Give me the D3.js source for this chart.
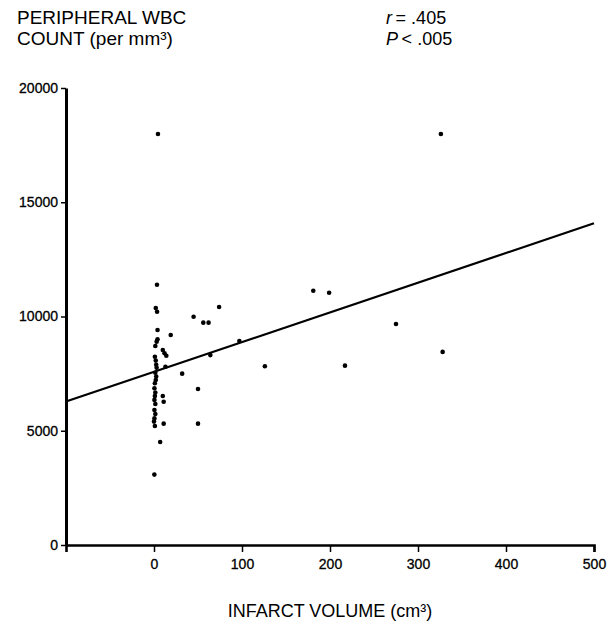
<!DOCTYPE html>
<html>
<head>
<meta charset="utf-8">
<script src="https://cdn.jsdelivr.net/npm/d3@7"></script>
<style>
  body { margin: 0; background: #fff; }
  text { font-family: "Liberation Sans", Arial, Helvetica, sans-serif; fill: #000; }
</style>
</head>
<body>
<div id="my_dataviz"></div>
<script>
// data
var infarctVolume = [4.5, 3.4, 2, 3.5, 4, 4, 3, 1.5, 1, 2, 2.5, 3, 1.5, 2.5, 2, 1, 0.5, 1.5, 1,
  0.5, 1.5, 0.5, 1.5, 0.5, 0, 1, 7, 0.4,
  10, 12, 14, 13, 10, 11, 11, 19, 32, 45, 50, 50, 56, 62, 64, 74, 97, 126,
  181, 199, 217, 275, 326, 328];
var wbcCount = [17990, 11390, 10370, 10210, 9410, 9000, 8900, 8710, 8240, 8070, 7890, 7760, 7540, 7370, 7220, 7080, 6860, 6670, 6520,
  6350, 6170, 5910, 5730, 5540, 5400, 5210, 4510, 3080,
  8530, 8390, 8280, 7800, 6520, 6270, 5310, 9190, 7500, 9990, 6830, 5310, 9730, 9730, 8310, 10415, 8930, 7820,
  11130, 11040, 7850, 9670, 17990, 8450];

var xTicks = [0, 100, 200, 300, 400, 500];
var yTicks = [0, 5000, 10000, 15000, 20000];
var xDomain = [-100, 500];
var yDomain = [0, 20000];

// regression line endpoints (x, predicted y)
var fitX = [-100, 500];
var fitIntercept = 7580;
var fitSlope = 13.0;

var points = infarctVolume.map(function (v, i) { return {x: v, y: wbcCount[i]}; });

var margin = {top: 88, right: 14, bottom: 79, left: 66},
    width = 608 - margin.left - margin.right,
    height = 624 - margin.top - margin.bottom;

var svg = d3.select("#my_dataviz")
  .append("svg")
    .attr("width", 608)
    .attr("height", 624)
  .append("g")
    .attr("transform", "translate(" + margin.left + "," + margin.top + ")");

var x = d3.scaleLinear().domain(xDomain).range([0, width]);
var y = d3.scaleLinear().domain(yDomain).range([height, 0]);

// X axis
var xAxis = svg.append("g")
  .attr("transform", "translate(0," + height + ")")
  .call(d3.axisBottom(x).tickValues(xTicks).tickFormat(d3.format("d"))
    .tickSize(7).tickPadding(7).tickSizeOuter(7));
xAxis.select(".domain").attr("stroke-width", 2.6);
xAxis.selectAll(".tick line").attr("stroke-width", 1.5);
xAxis.selectAll("text").style("font-size", "14px").attr("fill", "#000")
  .attr("stroke", "#000").attr("stroke-width", 0.3);

// Y axis
var yAxis = svg.append("g")
  .call(d3.axisLeft(y).tickValues(yTicks).tickFormat(d3.format("d"))
    .tickSize(5).tickPadding(3).tickSizeOuter(0));
yAxis.select(".domain").attr("stroke-width", 3);
yAxis.selectAll(".tick line").attr("stroke-width", 1.5);
yAxis.selectAll("text").style("font-size", "14px").attr("fill", "#000")
  .attr("stroke", "#000").attr("stroke-width", 0.3);

// regression line
svg.append("line")
  .attr("x1", x(fitX[0]))
  .attr("y1", y(fitIntercept + fitSlope * fitX[0]))
  .attr("x2", x(fitX[1]))
  .attr("y2", y(fitIntercept + fitSlope * fitX[1]))
  .attr("stroke", "#000")
  .attr("stroke-width", 2.2);

// dots
svg.append("g")
  .selectAll("circle")
  .data(points)
  .enter()
  .append("circle")
    .attr("cx", d => x(d.x))
    .attr("cy", d => y(d.y))
    .attr("r", 2.3)
    .style("fill", "#000");

// y axis title (two lines, top left)
var root = d3.select("svg");
root.append("text").attr("x", 17).attr("y", 24).style("font-size", "19px").text("PERIPHERAL WBC");
root.append("text").attr("x", 17).attr("y", 45).style("font-size", "19px").text("COUNT (per mm³)");

// stats
var r = root.append("text").attr("x", 386).attr("y", 24).style("font-size", "18px");
r.append("tspan").style("font-style", "italic").text("r");
r.append("tspan").text("\u2009= .405");
var p = root.append("text").attr("x", 386).attr("y", 45).style("font-size", "18px");
p.append("tspan").style("font-style", "italic").text("P");
p.append("tspan").text("\u2009< .005");

// x axis title
root.append("text")
  .attr("x", 330)
  .attr("y", 617)
  .attr("text-anchor", "middle")
  .style("font-size", "18px")
  .text("INFARCT VOLUME (cm³)");
</script>
</body>
</html>
